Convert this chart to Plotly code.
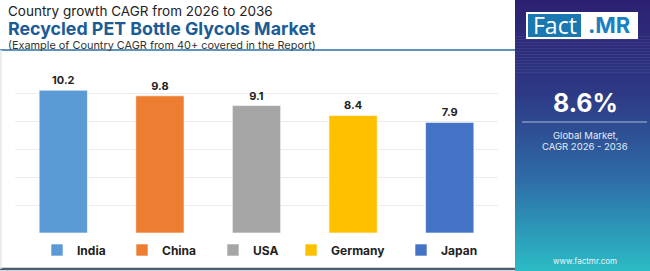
import plotly.graph_objects as go

countries = ["India", "China", "USA", "Germany", "Japan"]
cagr = [10.2, 9.8, 9.1, 8.4, 7.9]
colors = ["#5b9bd5", "#ed7d31", "#a5a5a5", "#ffc000", "#4472c4"]
global_cagr = "8.6%"

W, H = 650, 271
def px(x): return x / W
def py(y): return 1 - y / H

FONT = "Inter"
legend_x = [37, 122, 213, 291, 401]

fig = go.Figure()
for i, (c, v, col) in enumerate(zip(countries, cagr, colors)):
    lg = "legend" if i == 0 else f"legend{i+1}"
    fig.add_trace(go.Bar(
        x=[c], y=[v], name=c, legend=lg,
        marker=dict(color=col, line=dict(color="rgba(255,255,255,0.6)", width=1)),
        text=[f"{v:.1f}"], textposition="outside", cliponaxis=False,
        textfont=dict(family=FONT, size=11, color="#222222", weight="bold"),
        xaxis="x", yaxis="y",
    ))

legends = {}
for i, lx in enumerate(legend_x):
    key = "legend" if i == 0 else f"legend{i+1}"
    legends[key] = dict(orientation="h", x=px(lx), y=py(250), yanchor="middle", xanchor="left",
                        font=dict(family=FONT, size=12, color="#222222", weight="bold"),
                        itemwidth=30, bgcolor="rgba(0,0,0,0)")

fig.update_layout(
    width=W, height=H, margin=dict(l=0, r=0, t=0, b=0),
    paper_bgcolor="white", plot_bgcolor="white",
    barmode="relative", bargap=0.5,
    showlegend=True,
    xaxis=dict(domain=[px(15), px(498)], showticklabels=False, showgrid=False, zeroline=False,
               fixedrange=True),
    yaxis=dict(domain=[py(233), py(65)], range=[0, 12], dtick=2, showticklabels=False,
               gridcolor="#ececec", gridwidth=1, zeroline=False, fixedrange=True),
    **legends,
)

# gradient panel built from thin bands (top -> bottom)
stops = [(0.0, (44, 33, 112)), (0.35, (46, 58, 134)), (0.65, (46, 106, 166)), (1.0, (43, 188, 198))]
def grad(t):
    for (t0, c0), (t1, c1) in zip(stops[:-1], stops[1:]):
        if t <= t1:
            f = (t - t0) / (t1 - t0)
            return "rgb(%d,%d,%d)" % tuple(round(a + (b - a) * f) for a, b in zip(c0, c1))
    return "rgb(%d,%d,%d)" % stops[-1][1]

shapes = []
nb = 90
for k in range(nb):
    y0 = H * k / nb
    y1 = H * (k + 1) / nb + 0.6
    shapes.append(dict(type="rect", xref="paper", yref="paper", x0=px(515), x1=1,
                       y0=py(min(y1, H)), y1=py(y0), fillcolor=grad((k + 0.5) / nb),
                       line=dict(width=0)))

shapes += [
    dict(type="line", xref="paper", yref="paper", x0=0, x1=px(515), y0=py(50), y1=py(50),
         line=dict(color="#2a6fa6", width=1.5)),
    dict(type="line", xref="paper", yref="paper", x0=0, x1=px(515), y0=py(269), y1=py(269),
         line=dict(color="#4d5c6b", width=2.5)),
    dict(type="line", xref="paper", yref="paper", x0=px(1), x1=px(1), y0=py(50), y1=py(269),
         line=dict(color="#e6e6e6", width=1.5)),
    # logo
    dict(type="rect", xref="paper", yref="paper", x0=px(526), x1=px(638), y0=py(39), y1=py(12),
         fillcolor="white", line=dict(width=0)),
    dict(type="rect", xref="paper", yref="paper", x0=px(528), x1=px(581), y0=py(37), y1=py(14),
         fillcolor="#1a78b0", line=dict(width=0)),
    # separator in panel
    dict(type="line", xref="paper", yref="paper", x0=px(522), x1=px(647), y0=py(122), y1=py(122),
         line=dict(color="rgba(200,215,240,0.8)", width=1)),
]
fig.update_layout(shapes=shapes)

def ann(text, x, y, size, color, bold=False, xanchor="left", family=FONT):
    fig.add_annotation(text=text, x=px(x), y=py(y), xref="paper", yref="paper",
                       xanchor=xanchor, yanchor="middle", showarrow=False,
                       font=dict(family=family, size=size, color=color,
                                 weight="bold" if bold else "normal"))

ann("Country growth CAGR from 2026 to 2036", 6, 11, 13.5, "#222222")
ann("Recycled PET Bottle Glycols Market", 6, 28, 17.8, "#1b5c97", bold=True)
ann("(Example of Country CAGR from 40+ covered in the Report)", 6, 45, 10.9, "#333333")

ann("Fact", 554.5, 25.5, 23, "white", xanchor="center", family="Open Sans")
ann(".MR", 609, 25.5, 22, "#1a80c2", bold=True, xanchor="center", family=FONT)
ann(global_cagr, 585, 103, 25, "white", bold=True, xanchor="center")
ann("Global Market,", 585, 135, 9.5, "#e6ecf5", xanchor="center")
ann("CAGR 2026 - 2036", 585, 146, 9.5, "#e6ecf5", xanchor="center")
ann("www.factmr.com", 585, 261, 8, "#eef3f8", xanchor="center")

fig.write_html("out.html")
